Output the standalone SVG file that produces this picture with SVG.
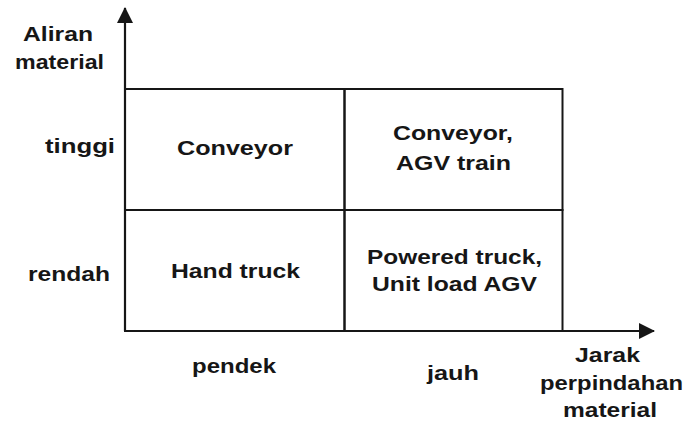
<svg xmlns="http://www.w3.org/2000/svg" width="685" height="421" viewBox="0 0 685 421">
  <style>
    .t { font-family: "Liberation Sans", Arial, sans-serif; font-weight: bold; font-size: 20px; fill: #161616; }
    .cell { fill: none; stroke: #161616; stroke-width: 2; }
    .axis { fill: none; stroke: #161616; stroke-width: 2.2; }
  </style>
  <defs>
    <marker id="arrow" viewBox="0 0 16 16" refX="15" refY="8" markerWidth="16" markerHeight="16" markerUnits="userSpaceOnUse" orient="auto">
      <path d="M0,0 L16,8 L0,16 Z" fill="#161616"/>
    </marker>
  </defs>

  <!-- axes -->
  <g id="connectors">
    <path class="axis" d="M125,331 L125,8" marker-end="url(#arrow)"/>
    <path class="axis" d="M124,331 L654,331" marker-end="url(#arrow)"/>
  </g>

  <!-- axis titles -->
  <g id="y-title">
    <text class="t" x="23" y="41" textLength="70" lengthAdjust="spacingAndGlyphs">Aliran</text>
    <text class="t" x="15" y="69" textLength="89" lengthAdjust="spacingAndGlyphs">material</text>
  </g>
  <g id="x-title">
    <text class="t" x="575" y="362" textLength="65" lengthAdjust="spacingAndGlyphs">Jarak</text>
    <text class="t" x="540" y="390" textLength="143" lengthAdjust="spacingAndGlyphs">perpindahan</text>
    <text class="t" x="563" y="417" textLength="94" lengthAdjust="spacingAndGlyphs">material</text>
  </g>

  <!-- row and column labels -->
  <g id="label-tinggi"><text class="t" x="45" y="153" textLength="70" lengthAdjust="spacingAndGlyphs">tinggi</text></g>
  <g id="label-rendah"><text class="t" x="28" y="281" textLength="82" lengthAdjust="spacingAndGlyphs">rendah</text></g>
  <g id="label-pendek"><text class="t" x="192" y="373" textLength="84" lengthAdjust="spacingAndGlyphs">pendek</text></g>
  <g id="label-jauh"><text class="t" x="427" y="380" textLength="52" lengthAdjust="spacingAndGlyphs">jauh</text></g>

  <!-- matrix cells -->
  <g id="cell-high-short">
    <rect class="cell" x="125" y="89" width="219.5" height="121"/>
    <text class="t" x="177" y="155" textLength="116" lengthAdjust="spacingAndGlyphs">Conveyor</text>
  </g>
  <g id="cell-high-long">
    <rect class="cell" x="344.5" y="89" width="218" height="121"/>
    <text class="t" x="393" y="140" textLength="120" lengthAdjust="spacingAndGlyphs">Conveyor,</text>
    <text class="t" x="396" y="170" textLength="115" lengthAdjust="spacingAndGlyphs">AGV train</text>
  </g>
  <g id="cell-low-short">
    <rect class="cell" x="125" y="210" width="219.5" height="121"/>
    <text class="t" x="171" y="278" textLength="129" lengthAdjust="spacingAndGlyphs">Hand truck</text>
  </g>
  <g id="cell-low-long">
    <rect class="cell" x="344.5" y="210" width="218" height="121"/>
    <text class="t" x="367" y="264" textLength="175" lengthAdjust="spacingAndGlyphs">Powered truck,</text>
    <text class="t" x="372" y="291" textLength="165" lengthAdjust="spacingAndGlyphs">Unit load AGV</text>
  </g>
</svg>
